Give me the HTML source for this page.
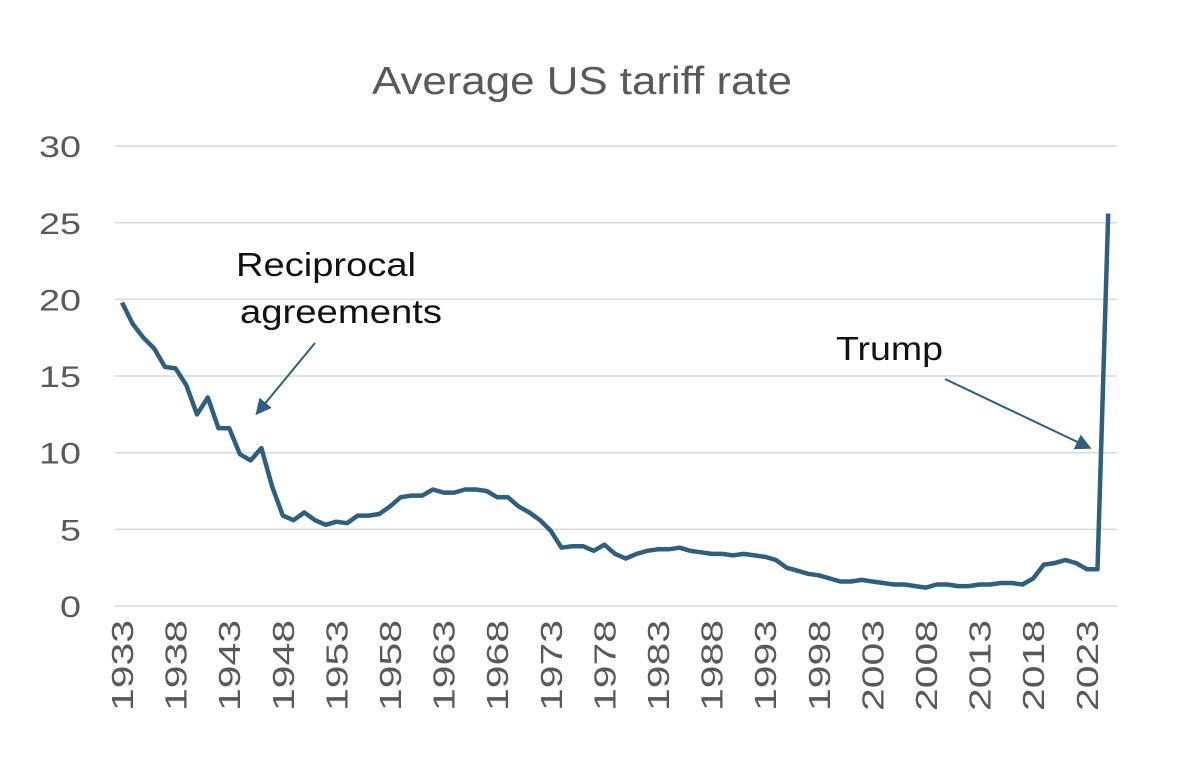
<!DOCTYPE html>
<html><head><meta charset="utf-8"><style>
body{margin:0;background:#fff;}
svg{display:block;font-family:"Liberation Sans",Arial,sans-serif;}
</style></head><body>
<svg id="chart" width="1200" height="759">
<defs><marker id="ah" markerWidth="8" markerHeight="8" refX="6" refY="4" orient="auto"><path d="M0,0 L8,4 L0,8 z" fill="#2f5f7d"/></marker></defs>
<text x="372" y="94" font-size="39" fill="#595959" textLength="420" lengthAdjust="spacingAndGlyphs">Average US tariff rate</text>
<g id="grid"></g><g id="yt"></g><g id="xt"></g>
<path id="line" fill="none" stroke="#2f5f7d" stroke-width="4.5" stroke-linejoin="round"/>
<text font-size="33" fill="#111"><tspan x="236" y="276" textLength="180" lengthAdjust="spacingAndGlyphs">Reciprocal</tspan><tspan x="240" y="323" textLength="202" lengthAdjust="spacingAndGlyphs">agreements</tspan></text>
<line x1="315" y1="343" x2="258" y2="412" stroke="#2f5f7d" stroke-width="2" marker-end="url(#ah)"/>
<text x="836" y="360" font-size="33" fill="#111" textLength="107" lengthAdjust="spacingAndGlyphs">Trump</text>
<line x1="945" y1="379" x2="1088" y2="447" stroke="#2f5f7d" stroke-width="2" marker-end="url(#ah)"/>
</svg>
<script>
const startYear=1933;
const values=[19.8,18.4,17.5,16.8,15.6,15.5,14.4,12.5,13.6,11.6,11.6,9.9,9.5,10.3,7.8,5.9,5.6,6.1,5.6,5.3,5.5,5.4,5.9,5.9,6.0,6.5,7.1,7.2,7.2,7.6,7.4,7.4,7.6,7.6,7.5,7.1,7.1,6.5,6.1,5.6,4.9,3.8,3.9,3.9,3.6,4.0,3.4,3.1,3.4,3.6,3.7,3.7,3.8,3.6,3.5,3.4,3.4,3.3,3.4,3.3,3.2,3.0,2.5,2.3,2.1,2.0,1.8,1.6,1.6,1.7,1.6,1.5,1.4,1.4,1.3,1.2,1.4,1.4,1.3,1.3,1.4,1.4,1.5,1.5,1.4,1.8,2.7,2.8,3.0,2.8,2.4,2.4,25.6];
const yTicks=[0,5,10,15,20,25,30];
const xTickYears=[1933,1938,1943,1948,1953,1958,1963,1968,1973,1978,1983,1988,1993,1998,2003,2008,2013,2018,2023];
const NS="http://www.w3.org/2000/svg";
const X=yr=>122+(yr-1933)*10.72;
const Y=v=>606-v*15.33;
function mk(t,a,p){const e=document.createElementNS(NS,t);for(const k in a)e.setAttribute(k,a[k]);p.appendChild(e);return e;}
const g=document.getElementById('grid'),yt=document.getElementById('yt'),xt=document.getElementById('xt');
yTicks.forEach(v=>{
 const l=mk('line',{x1:115,x2:1117,y1:Y(v),y2:Y(v),stroke:'#d9d9d9','stroke-width':1.5},g);
 
 
 const s=String(v);
 const t=mk('text',{x:81,y:Y(v)+11,'font-size':30,fill:'#595959','text-anchor':'end',textLength:s.length*21,lengthAdjust:'spacingAndGlyphs'},yt);
 t.textContent=v;
 
 
});
xTickYears.forEach(yr=>{
 const x=X(yr)+11;
 const t=mk('text',{x:x,y:620,'font-size':31,fill:'#595959','text-anchor':'end',textLength:91,lengthAdjust:'spacingAndGlyphs',transform:`rotate(-90 ${x} 620)`},xt);
 t.textContent=yr;
 
 
});
document.getElementById('line').setAttribute('d',values.map((v,i)=>(i?'L':'M')+X(startYear+i).toFixed(1)+','+Y(v).toFixed(1)).join(''));
</script>
</body></html>
